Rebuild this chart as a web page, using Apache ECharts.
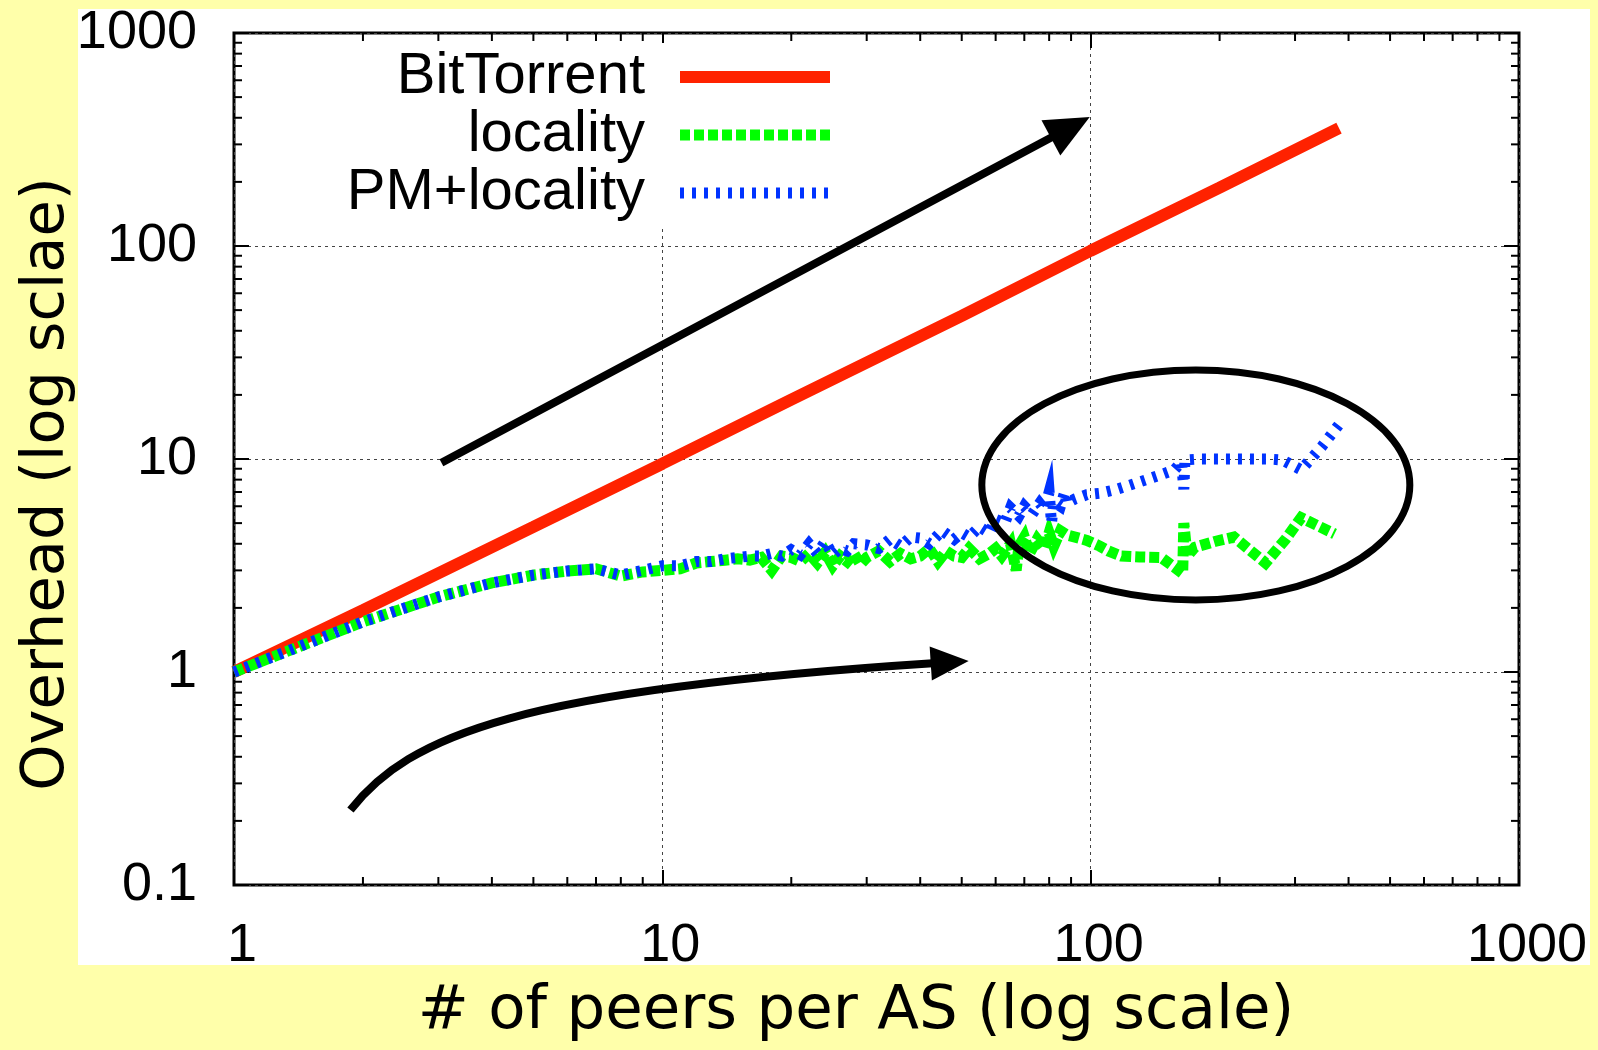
<!DOCTYPE html>
<html>
<head>
<meta charset="utf-8">
<title>Overhead (log scale)</title>
<script src="https://cdn.jsdelivr.net/npm/echarts@6/dist/echarts.min.js"></script>
<style>
    html, body { margin: 0; padding: 0; background: #ffffaa; }
    .chart_main { width: 1598px; height: 1050px; }
</style>
</head>
<body>
<div class="chart_main"></div>
<script>
// series names
var seriesNames = ['BitTorrent', 'locality', 'PM+locality'];

// BitTorrent (straight line on log-log)
var btX = [1, 2, 5, 10, 20, 50, 100, 200, 380];
var btY = [1, 1.95, 4.8, 9.5, 19, 47, 95, 188, 358];

// locality
var locX = [1, 2, 3, 4, 5, 6, 7, 8, 9, 10,
    11, 12, 13, 14, 15, 16, 17, 18, 19, 20,
    21, 22, 23, 24, 25, 26, 27, 28, 29, 30,
    32, 34, 36, 38, 40, 42, 44, 46, 48, 50,
    52, 55, 58, 60, 62, 65, 67, 68, 70, 72,
    75, 78, 80, 82, 85, 88, 92, 98, 105, 110,
    118, 130, 146, 157, 164, 165, 168, 175, 195, 216,
    256, 285, 310, 371];
var locY = [1.0, 1.72, 2.25, 2.62, 2.85, 2.98, 3.05, 2.82, 2.95, 3.0,
    3.05, 3.25, 3.3, 3.35, 3.4, 3.35, 3.45, 3.0, 3.5, 3.45,
    3.3, 3.6, 3.25, 3.65, 3.15, 3.5, 3.3, 3.6, 3.2, 3.45,
    3.7, 3.3, 3.6, 3.4, 3.5, 3.8, 3.3, 3.7, 3.5, 3.45,
    3.8, 3.4, 3.6, 3.8, 3.5, 4.0, 3.0, 3.9, 4.3, 3.6,
    4.2, 3.8, 4.5, 3.9, 4.6, 4.4, 4.3, 4.15, 3.9, 3.7,
    3.5, 3.47, 3.45, 3.1, 2.9, 5.0, 3.5, 3.85, 4.1, 4.3,
    3.25, 4.2, 5.3, 4.45];

// PM+locality
var pmX = [1, 2, 3, 4, 5, 6, 7, 8, 9, 10,
    11, 12, 13, 14, 15, 16, 17, 18, 19, 20,
    21, 22, 23, 24, 25, 26, 27, 28, 30, 32,
    34, 36, 38, 40, 42, 45, 48, 50, 52, 55,
    58, 60, 63, 65, 68, 70, 73, 76, 78, 80,
    81, 82, 85, 87, 88, 92, 98, 105, 115, 125,
    135, 145, 157, 163, 165, 166, 180, 200, 230, 260,
    280, 310, 346, 385];
var pmY = [1.0, 1.72, 2.25, 2.62, 2.85, 2.98, 3.05, 2.85, 3.0, 3.15,
    3.15, 3.3, 3.3, 3.4, 3.45, 3.5, 3.5, 3.6, 3.5, 3.75,
    3.55, 4.0, 3.6, 4.1, 3.55, 3.8, 3.7, 4.0, 3.95, 3.8,
    4.2, 3.9, 4.3, 4.25, 4.0, 4.6, 4.2, 4.5, 4.3, 4.8,
    4.5, 5.2, 5.0, 5.9, 5.4, 6.0, 5.5, 6.2, 5.8, 7.0,
    5.0, 6.3, 6.0, 7.0, 6.2, 6.5, 6.8, 6.9, 7.2, 7.6,
    8.0, 8.4, 8.9, 9.7, 7.2, 9.9, 10.0, 10.0, 10.0, 10.0,
    9.9, 8.9, 11.4, 15.0];

// axis ranges
var xMin = 1, xMax = 1000;
var yMin = 0.1, yMax = 1000;

// minor tick positions (2..9 in every decade)
var minorSteps = [2, 3, 4, 5, 6, 7, 8, 9];
var xDecades = [1, 10, 100];
var yDecades = [0.1, 1, 10, 100];

function pairs(xs, ys) {
    var out = [];
    for (var i = 0; i < xs.length; i++) out.push([xs[i], ys[i]]);
    return out;
}
function minorTicks(decades) {
    var out = [];
    decades.forEach(function (d) {
        minorSteps.forEach(function (s) { out.push(+(d * s).toPrecision(6)); });
    });
    return out;
}

var tickFont = 'Liberation Sans, Arial, sans-serif';
var titleFont = 'DejaVu Sans, sans-serif';

var chart = echarts.init(document.querySelector('.chart_main'));

var option = {
    animation: false,
    backgroundColor: '#ffffaa',
    grid: {
        left: 234, right: 79, top: 33, bottom: 165,
        show: true,
        borderColor: '#000',
        borderWidth: 3,
        backgroundColor: 'transparent',
        outerBoundsMode: 'none'
    },
    legend: {
        data: seriesNames,
        orient: 'vertical',
        align: 'right',
        right: 752,
        top: 43,
        padding: [5, 10, 5, 10],
        backgroundColor: '#fff',
        itemWidth: 150,
        itemHeight: 12,
        itemGap: 0,
        lineStyle: { width: 'inherit', cap: 'butt' },
        // hide the symbol in the legend icon, keep only the line
        itemStyle: { opacity: 0 },
        textStyle: {
            fontFamily: tickFont,
            fontSize: 58,
            lineHeight: 57,
            color: '#000',
            padding: [0, 30, 0, 0]
        }
    },
    xAxis: [{
        type: 'log', logBase: 10, min: xMin, max: xMax,
        axisLine: { show: false },
        axisTick: { inside: true, length: 15, lineStyle: { color: '#000', width: 2 } },
        axisLabel: {
            fontFamily: tickFont, fontSize: 54, color: '#000', margin: 34,
            padding: [0, 0, 0, 16],
            formatter: function (v) { return String(Math.round(v * 10) / 10); }
        },
        splitLine: { show: true, lineStyle: { color: '#444', width: 1, type: [3, 4] } }
    }, {
        // mirrored ticks on top
        type: 'log', logBase: 10, min: xMin, max: xMax, position: 'top',
        axisLine: { show: false },
        axisTick: { inside: true, length: 15, lineStyle: { color: '#000', width: 2 } },
        axisLabel: { show: false },
        splitLine: { show: false }
    }],
    yAxis: [{
        type: 'log', logBase: 10, min: yMin, max: yMax,
        axisLine: { show: false },
        axisTick: { inside: true, length: 15, lineStyle: { color: '#000', width: 2 } },
        axisLabel: {
            fontFamily: tickFont, fontSize: 54, color: '#000', margin: 37,
            formatter: function (v) { return String(Math.round(v * 10) / 10); }
        },
        splitLine: { show: true, lineStyle: { color: '#444', width: 1, type: [3, 4] } }
    }, {
        // mirrored ticks on the right
        type: 'log', logBase: 10, min: yMin, max: yMax, position: 'right',
        axisLine: { show: false },
        axisTick: { inside: true, length: 15, lineStyle: { color: '#000', width: 2 } },
        axisLabel: { show: false },
        splitLine: { show: false }
    }],
    series: [{
        name: seriesNames[0],
        type: 'line',
        data: pairs(btX, btY),
        symbol: 'none',
        lineStyle: { color: '#ff2200', width: 12, cap: 'butt' },
        itemStyle: { color: '#ff2200' },
        z: 3
    }, {
        name: seriesNames[1],
        type: 'line',
        data: pairs(locX, locY),
        symbol: 'none',
        lineStyle: { color: '#00ff00', width: 11, type: [10, 4], cap: 'butt', join: 'miter', miterLimit: 6 },
        itemStyle: { color: '#00ff00' },
        z: 4
    }, {
        name: seriesNames[2],
        type: 'line',
        data: pairs(pmX, pmY),
        symbol: 'none',
        lineStyle: { color: '#0033ff', width: 11, type: [4, 8], cap: 'butt', join: 'miter', miterLimit: 6 },
        itemStyle: { color: '#0033ff' },
        z: 5
    }, {
        // minor ticks on bottom and top
        type: 'custom',
        silent: true,
        data: minorTicks(xDecades).map(function (v) { return [v, 1]; }),
        renderItem: function (params, api) {
            var v = api.value(0);
            var b = api.coord([v, yMin]);
            var t = api.coord([v, yMax]);
            var st = { stroke: '#000', lineWidth: 2 };
            return {
                type: 'group', children: [
                    { type: 'line', shape: { x1: b[0], y1: b[1], x2: b[0], y2: b[1] - 8 }, style: st },
                    { type: 'line', shape: { x1: t[0], y1: t[1], x2: t[0], y2: t[1] + 8 }, style: st }
                ]
            };
        },
        z: 6
    }, {
        // minor ticks on left and right
        type: 'custom',
        silent: true,
        data: minorTicks(yDecades).map(function (v) { return [1, v]; }),
        renderItem: function (params, api) {
            var v = api.value(1);
            var l = api.coord([xMin, v]);
            var r = api.coord([xMax, v]);
            var st = { stroke: '#000', lineWidth: 2 };
            return {
                type: 'group', children: [
                    { type: 'line', shape: { x1: l[0], y1: l[1], x2: l[0] + 8, y2: l[1] }, style: st },
                    { type: 'line', shape: { x1: r[0], y1: r[1], x2: r[0] - 8, y2: r[1] }, style: st }
                ]
            };
        },
        z: 6
    }]
};

chart.setOption(option);

// annotations: arrows and ellipse, anchored in data coordinates
function px(p) { return chart.convertToPixel({ seriesIndex: 0 }, p); }

function arrowHead(tip, from, headLen, headHalf) {
    var dx = tip[0] - from[0], dy = tip[1] - from[1];
    var len = Math.sqrt(dx * dx + dy * dy);
    var ux = dx / len, uy = dy / len;
    var bx = tip[0] - ux * headLen, by = tip[1] - uy * headLen;
    return {
        base: [bx + ux * 2, by + uy * 2],
        el: {
            type: 'polygon', z: 100,
            shape: { points: [tip, [bx - uy * headHalf, by + ux * headHalf], [bx + uy * headHalf, by - ux * headHalf]] },
            style: { fill: '#000' }
        }
    };
}

// straight arrow
var upStart = px([3.05, 9.6]);
var upTip = px([99.5, 403]);
var upHead = arrowHead(upTip, upStart, 44, 20);

// curved arrow: start, two control points, tip
var cvStart = px([1.87, 0.225]);
var cvC1 = px([2.57, 0.506]);
var cvC2 = px([4.64, 0.823]);
var cvTip = px([51.9, 1.126]);
var cvHead = arrowHead(cvTip, cvC2, 38, 17);

var ellipseCenter = px([176, 7.55]);

var graphics = [{
    type: 'rect', z: -100, silent: true,
    shape: { x: 78, y: 9, width: 1512, height: 956 },
    style: { fill: '#fff' }
}, {
    type: 'text', z: 100,
    x: 48, y: 484, rotation: Math.PI / 2,
    style: {
        text: 'Overhead (log sclae)', fill: '#000',
        font: '59px ' + titleFont, align: 'center', verticalAlign: 'middle'
    }
}, {
    type: 'text', z: 100,
    x: 856, y: 1012,
    style: {
        text: '# of peers per AS (log scale)', fill: '#000',
        font: '61px ' + titleFont, align: 'center', verticalAlign: 'middle'
    }
}, {
    type: 'ellipse', z: 100,
    shape: { cx: ellipseCenter[0], cy: ellipseCenter[1], rx: 214, ry: 115 },
    style: { stroke: '#000', lineWidth: 7, fill: null }
}, {
    type: 'line', z: 100,
    shape: { x1: upStart[0], y1: upStart[1], x2: upHead.base[0], y2: upHead.base[1] },
    style: { stroke: '#000', lineWidth: 8 }
}, upHead.el, {
    type: 'bezierCurve', z: 100,
    shape: {
        x1: cvStart[0], y1: cvStart[1],
        cpx1: cvC1[0], cpy1: cvC1[1],
        cpx2: cvC2[0], cpy2: cvC2[1],
        x2: cvHead.base[0], y2: cvHead.base[1]
    },
    style: { stroke: '#000', lineWidth: 8, fill: null }
}, cvHead.el];

chart.setOption({ graphic: graphics });
</script>
</body>
</html>
